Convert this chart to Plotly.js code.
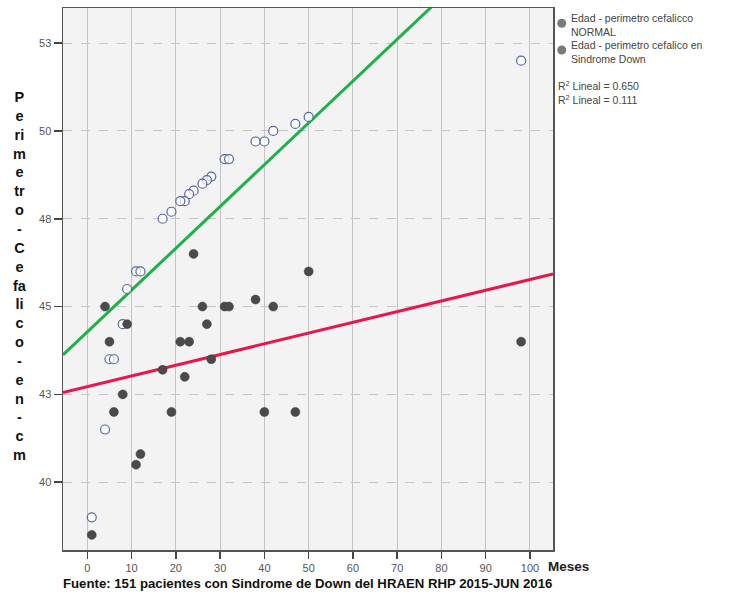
<!DOCTYPE html>
<html>
<head>
<meta charset="utf-8">
<script src="https://cdn.plot.ly/plotly-3.0.1.min.js"></script>
<style>html,body{margin:0;padding:0;background:#fff;}#chart{width:740px;height:595px;}</style>
</head>
<body>
<div id="chart"></div>
<script>
// Edad (meses) vs perimetro cefalico NORMAL (open circles)
const normalX = [98, 50, 47, 42, 40, 38, 31, 32, 28, 27, 26, 24, 23, 22, 21, 19, 17, 11, 12, 9, 8, 5, 6, 4, 1];
const normalY = [52.0, 50.4, 50.2, 50.0, 49.7, 49.7, 49.2, 49.2, 48.7, 48.6, 48.5, 48.3, 48.2, 48.0, 48.0, 47.7, 47.5, 46.0, 46.0, 45.5, 44.5, 43.5, 43.5, 41.5, 39.0];
// Edad vs perimetro cefalico en Sindrome Down (filled circles)
const downX = [24, 50, 4, 26, 31, 32, 38, 42, 9, 27, 5, 21, 23, 98, 28, 17, 22, 8, 6, 19, 40, 47, 12, 11, 1];
const downY = [46.5, 46.0, 45.0, 45.0, 45.0, 45.0, 45.2, 45.0, 44.5, 44.5, 44.0, 44.0, 44.0, 44.0, 43.5, 43.2, 43.0, 42.5, 42.0, 42.0, 42.0, 42.0, 40.8, 40.5, 38.5];
// Linear fit lines
const fitNormal = [44.28, 0.119];   // intercept, slope  (R2 = 0.650)
const fitDown = [42.72, 0.0305];    // intercept, slope  (R2 = 0.111)
const xRange = [-5.5, 105.2];
const yRange = [38.07, 53.5];
const xTicks = [0, 10, 20, 30, 40, 50, 60, 70, 80, 90, 100];
const yTickVals = [40, 42.5, 45, 47.5, 50, 52.5];
const yTickText = ['40', '43', '45', '48', '50', '53'];
const legendNames = ['Edad - perimetro cefalicco<br>NORMAL', 'Edad - perimetro cefalico en<br>Sindrome Down'];
const r2Labels = ['R<sup>2</sup> Lineal = 0.650', 'R<sup>2</sup> Lineal = 0.111'];
const yTitleParts = ['P','e','ri','m','e','tr','o','-','C','e','fa','li','c','o','-','e','n','-','c','m'];

const FONT = 'Liberation Sans, Arial, sans-serif';
const lineY = (f, x) => f[0] + f[1] * x;

const traces = [
  {x: xRange, y: xRange.map(x => lineY(fitDown, x)), mode: 'lines', type: 'scatter',
   line: {color: '#e8174a', width: 3}, hoverinfo: 'skip'},
  {x: xRange, y: xRange.map(x => lineY(fitNormal, x)), mode: 'lines', type: 'scatter',
   line: {color: '#1fb04a', width: 3}, hoverinfo: 'skip'},
  {x: normalX, y: normalY, mode: 'markers', type: 'scatter',
   marker: {symbol: 'circle', size: 9, color: 'rgba(255,255,255,0.7)', line: {color: '#56679e', width: 1.2}}},
  {x: downX, y: downY, mode: 'markers', type: 'scatter',
   marker: {symbol: 'circle', size: 9, color: '#4a4a4a', line: {color: '#3a3a3a', width: 0.5}}}
];

const legendMarkerY = [0.9718, 0.9225];
const legendTextY = [0.9686, 0.9188];
const r2Y = [0.8561, 0.8321];

const annotations = [
  {xref: 'paper', yref: 'paper', x: -0.088, y: 0.505, xanchor: 'center', yanchor: 'middle',
   text: '<b>' + yTitleParts.join('<br>') + '</b>', showarrow: false, align: 'center',
   font: {family: FONT, size: 14.5, color: '#111'}},
  {xref: 'paper', yref: 'paper', x: 0.985, y: -0.031, xanchor: 'left', yanchor: 'middle',
   text: '<b>Meses</b>', showarrow: false, font: {family: FONT, size: 13.5, color: '#222'}},
  {xref: 'paper', yref: 'paper', x: -0.005, y: -0.062, xanchor: 'left', yanchor: 'middle',
   text: '<b>Fuente: 151 pacientes con Sindrome de Down del HRAEN RHP 2015-JUN 2016</b>', showarrow: false,
   font: {family: FONT, size: 13.2, color: '#111'}}
];
legendNames.forEach((t, i) => annotations.push({xref: 'paper', yref: 'paper', x: 1.0335, y: legendTextY[i],
  xanchor: 'left', yanchor: 'middle', align: 'left', text: t, showarrow: false,
  font: {family: FONT, size: 10.5, color: '#444'}}));
r2Labels.forEach((t, i) => annotations.push({xref: 'paper', yref: 'paper', x: 1.006, y: r2Y[i],
  xanchor: 'left', yanchor: 'middle', text: t, showarrow: false,
  font: {family: FONT, size: 10.5, color: '#444'}}));

const shapes = legendMarkerY.map(y => ({type: 'circle', xref: 'paper', yref: 'paper',
  xsizemode: 'pixel', ysizemode: 'pixel', xanchor: 1.0178, yanchor: y,
  x0: -4.5, x1: 4.5, y0: -4.5, y1: 4.5, fillcolor: '#7a7a7a', line: {width: 0}}));

const layout = {
  width: 740, height: 595,
  margin: {l: 63, r: 187, t: 8, b: 45},
  paper_bgcolor: '#ffffff', plot_bgcolor: '#f3f3f3',
  font: {family: FONT, size: 11, color: '#555'},
  showlegend: false,
  xaxis: {range: xRange, tickvals: xTicks, ticks: 'outside', ticklen: 7, tickcolor: '#444', tickwidth: 1.5,
    showgrid: true, gridcolor: '#c4c4c4', gridwidth: 1, zeroline: false,
    showline: true, linecolor: '#555', linewidth: 1.5, mirror: true,
    tickfont: {family: FONT, size: 11, color: '#555'}},
  yaxis: {range: yRange, tickvals: yTickVals, ticktext: yTickText, ticks: 'outside', ticklen: 8, tickcolor: '#444', tickwidth: 1.5,
    showgrid: true, gridcolor: '#c4c4c4', gridwidth: 1, griddash: 'dash', zeroline: false,
    showline: true, linecolor: '#555', linewidth: 1.5, mirror: true,
    tickfont: {family: FONT, size: 11, color: '#555'}},
  annotations: annotations,
  shapes: shapes
};

Plotly.newPlot('chart', traces, layout, {displayModeBar: false, staticPlot: true});
</script>
</body>
</html>
